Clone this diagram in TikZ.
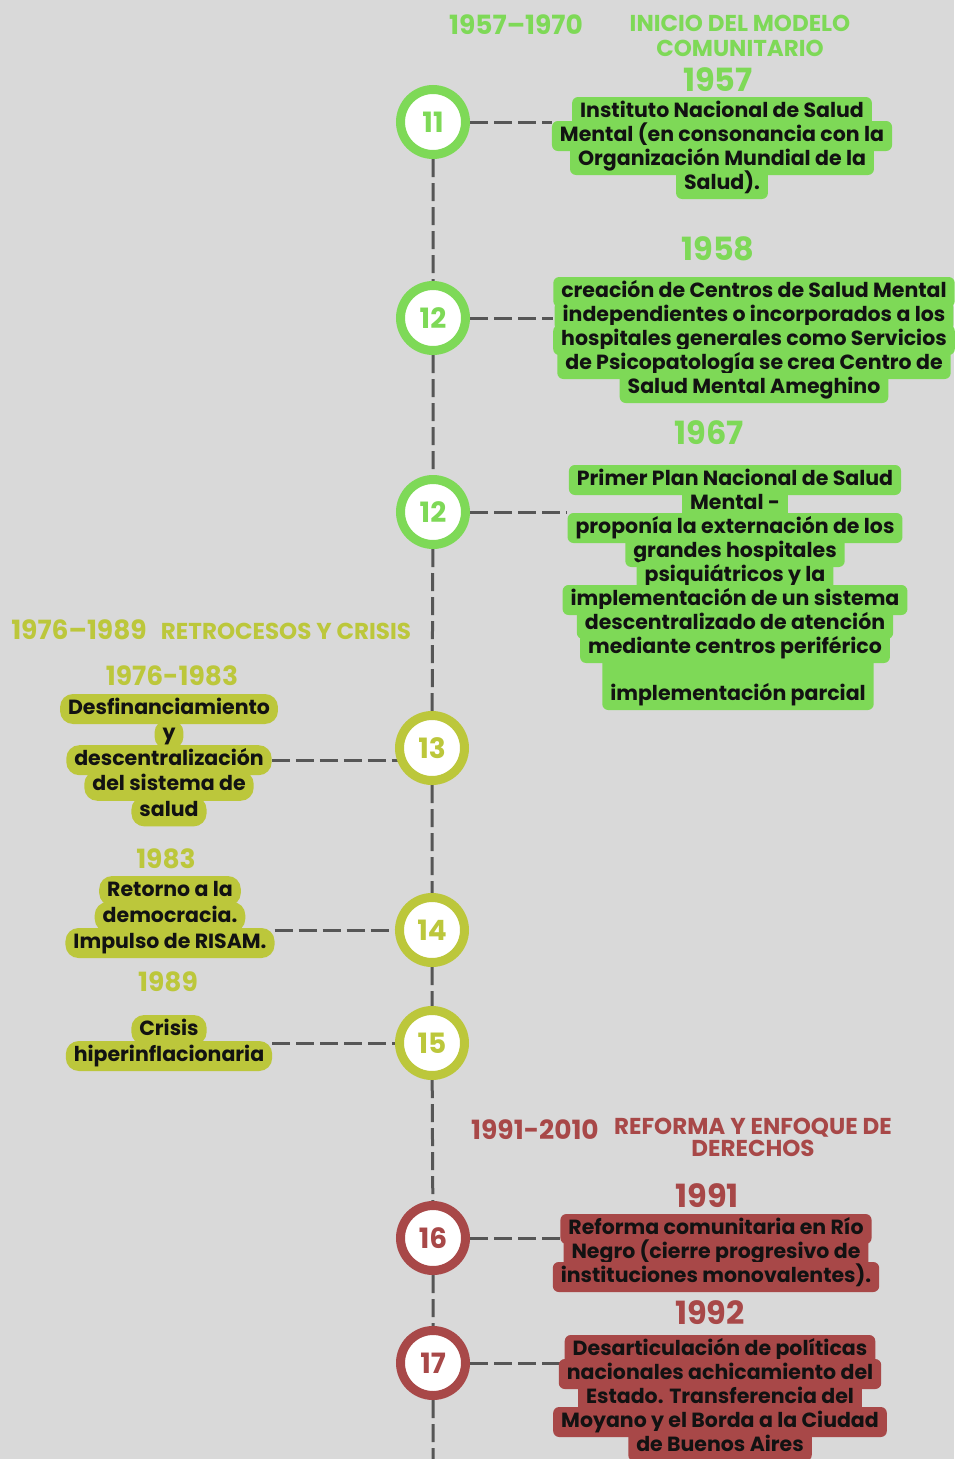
\documentclass[tikz,border=0pt]{standalone}
\usepackage{fontspec}
\setmainfont{Poppins}
\usetikzlibrary{positioning}
\definecolor{paper}{HTML}{D9D9D9}
\definecolor{leaf}{HTML}{7ED957}
\definecolor{moss}{HTML}{BCC73B}
\definecolor{brick}{HTML}{A84848}
\definecolor{rail}{HTML}{565656}
\definecolor{ink}{HTML}{121212}
\pgfdeclarelayer{back}
\pgfdeclarelayer{rails}
\pgfsetlayers{back,rails,main}

\begin{document}
\begin{tikzpicture}[x=1pt, y=-1pt, font=\bfseries, text=ink,
  stop/.style={circle, draw=#1, line width=9pt, fill=white, minimum size=65pt, inner sep=0pt, text=#1, font=\bfseries\fontsize{28}{28}\selectfont},
  tag/.style={fill=#1, rounded corners=6pt, inner xsep=8pt, inner ysep=5pt, text height=15pt, text depth=5pt, font=\bfseries\fontsize{20.5}{24}\selectfont},
  pill/.style={tag=#1, rounded corners=13pt},
  era/.style={text=#1, font=\bfseries\fontsize{26.5}{26}\selectfont},
  theme/.style={text=#1, align=center, font=\bfseries\fontsize{23}{25}\selectfont},
  year/.style={text=#1, font=\bfseries\fontsize{32}{32}\selectfont},
  link/.style={draw=rail, line width=3pt, dash pattern=on 18pt off 6pt}]
  \begin{pgfonlayer}{back}
    \fill[paper] (0,0) rectangle (954,1459);
  \end{pgfonlayer}
  \useasboundingbox (0,0) rectangle (954,1459);

  \node[stop=leaf] (k1957) at (433,122) {11};
  \node[stop=leaf] (k1958) at (433,318) {12};
  \node[stop=leaf] (k1967) at (433,512) {12};
  \node[stop=moss] (k1976) at (432,748) {13};
  \node[stop=moss] (k1983) at (432,930) {14};
  \node[stop=moss] (k1989) at (432,1043) {15};
  \node[stop=brick] (k1991) at (433,1238) {16};
  \node[stop=brick] (k1992) at (433,1363) {17};
  \coordinate (tail) at (433,1459);

  \node[era=leaf] at (516,25) {1957–1970};
  \node[theme=leaf] at (740,36) {INICIO DEL MODELO\\COMUNITARIO};
  \node[year=leaf] at (718,80) {1957};
  \foreach \t [count=\i] in {Instituto Nacional de Salud, Mental (en consonancia con la, Organización Mundial de la, Salud).}
    \node[tag=leaf] (t1957-\i) at (722,88+24*\i) {\t};

  \node[year=leaf] at (718,249) {1958};
  \foreach \t [count=\i] in {creación de Centros de Salud Mental, independientes o incorporados a los, hospitales generales como Servicios, de Psicopatología se crea Centro de, Salud Mental Ameghino}
    \node[tag=leaf] (t1958-\i) at (754,268+24*\i) {\t};

  \node[year=leaf] at (709,433) {1967};
  \node[tag=leaf, text height=39pt, anchor=base] (t1967-9) at (738,700) {implementación parcial};
  \foreach \t [count=\i] in {Primer Plan Nacional de Salud, Mental -, proponía la externación de los, grandes hospitales, psiquiátricos y la, implementación de un sistema, descentralizado de atención, mediante centros periférico}
    \node[tag=leaf] (t1967-\i) at (735,456+24*\i) {\t};

  \node[era=moss] at (79,630) {1976–1989};
  \node[theme=moss] at (286,631) {RETROCESOS Y CRISIS};
  \node[era=moss] at (172,676) {1976-1983};
  \foreach \t [count=\i] in {Desfinanciamiento, y, descentralización, del sistema de, salud}
    \node[pill=moss] (t1976-\i) at (169,683.4+25.6*\i) {\t};

  \node[era=moss] at (166,859) {1983};
  \foreach \t [count=\i] in {Retorno a la, democracia., Impulso de RISAM.}
    \node[pill=moss] (t1983-\i) at (170,865+26*\i) {\t};

  \node[era=moss] at (168,982) {1989};
  \foreach \t [count=\i] in {Crisis, hiperinflacionaria}
    \node[pill=moss] (t1989-\i) at (169,1004+26*\i) {\t};

  \node[era=brick] at (535,1130) {1991-2010};
  \node[theme=brick] (reforma) at (753,1128) {REFORMA Y ENFOQUE DE};
  \node[theme=brick, below=-5pt of reforma] {DERECHOS};
  \node[year=brick] at (707,1196) {1991};
  \foreach \t [count=\i] in {Reforma comunitaria en Río, Negro (cierre progresivo de, instituciones monovalentes).}
    \node[tag=brick] (t1991-\i) at (716,1205+24*\i) {\t};

  \node[year=brick] at (710,1313) {1992};
  \foreach \t [count=\i] in {Desarticulación de políticas, nacionales achicamiento del, Estado. Transferencia del, Moyano y el Borda a la Ciudad, de Buenos Aires}
    \node[tag=brick] (t1992-\i) at (720,1326+24*\i) {\t};

  \begin{pgfonlayer}{rails}
    \draw[link] (k1957) -- (k1958) -- (k1967) -- (k1976) -- (k1983) -- (k1989) -- (k1991) -- (k1992) -- (tail);
    \draw[link] (k1957) -- (k1957 -| t1957-2.west);
    \draw[link] (k1958) -- (k1958 -| t1958-3.west);
    \draw[link] (k1967) -- (k1967 -| t1967-3.west);
    \draw[link] (t1976-3.east) -- (t1976-3.east -| k1976);
    \draw[link] (k1983 -| t1983-3.east) -- (k1983);
    \draw[link] (k1989 -| t1989-2.east) -- (k1989);
    \draw[link] (k1991) -- (k1991 -| t1991-2.west);
    \draw[link] (k1992) -- (k1992 -| t1992-1.west);
  \end{pgfonlayer}
\end{tikzpicture}
\end{document}
